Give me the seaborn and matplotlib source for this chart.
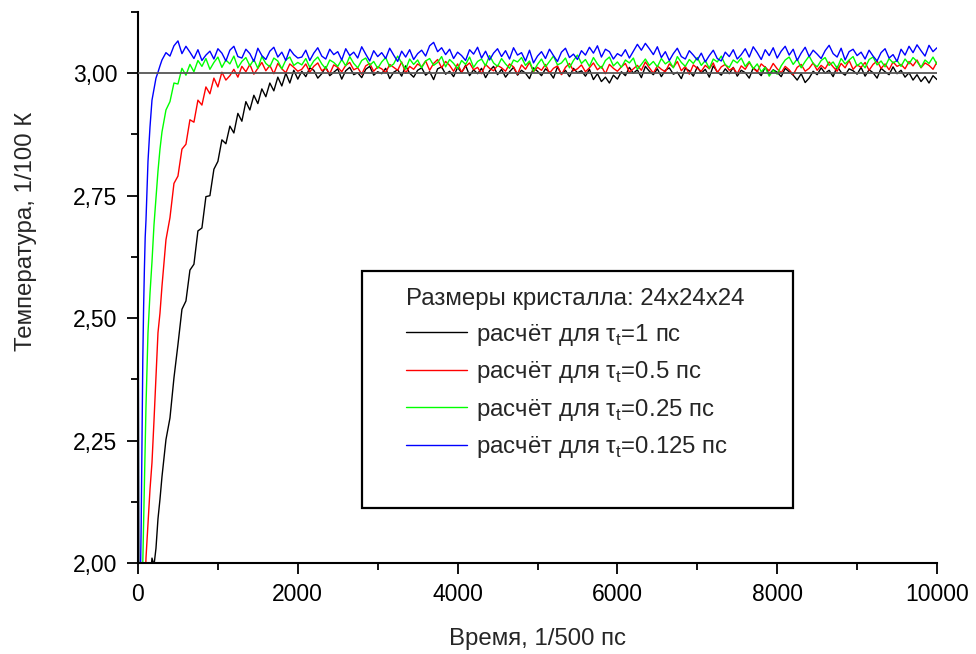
import numpy as np
import pandas as pd
import matplotlib
matplotlib.use("Agg")
import matplotlib.pyplot as plt
from matplotlib.lines import Line2D
from matplotlib.patches import Rectangle
from matplotlib.ticker import MultipleLocator, FuncFormatter
import seaborn as sns

# ---------------- data (temperature in 1/100 K, x1000) ----------------
time_steps = np.concatenate([np.arange(0, 100, 10), np.arange(100, 300, 25), np.arange(300, 10001, 50)])

tau1_early = [2950, 1450, 1500, 1560, 1610, 1660, 1700, 1740, 1770, 1800,
              1830, 1880, 1960, 2010, 1995, 2030, 2090, 2130]
tau1_mid = [2176, 2252, 2296, 2378, 2446, 2518, 2535, 2598, 2610, 2678,
            2684, 2748, 2750, 2804, 2820, 2864, 2856, 2892, 2878, 2918,
            2902, 2942, 2925, 2955, 2938, 2968, 2952, 2980, 2964, 2992,
            2974, 3000, 2980, 3006, 2988]
tau1_late = [3004, 2993, 3011, 3006, 2990, 2999, 3013, 2995, 3002, 3009,
             2988, 3005, 3012, 2997, 3001, 2991, 3008, 3014, 2996, 3003,
             2999, 3010, 2989, 3002, 3007, 2994, 3015, 3000, 2992, 3006,
             3011, 2996, 3003, 2987, 3009, 3013, 2998, 3004, 2993, 3012,
             3001, 3016, 2995, 3007, 2999, 3010, 2991, 3005, 3014, 2997,
             3008, 2992, 3003, 3012, 2996, 3006, 3000, 2989, 3011, 3004,
             2995, 3009, 3002, 2990, 3013, 2998, 3006, 2993, 3010, 3001,
             3005, 2994, 3008, 2987, 2999, 2983, 2992, 2980, 2996, 2988,
             3003, 2995, 3012, 3000, 3007, 2991, 3014, 3004, 2997, 3009,
             2993, 3006, 3011, 2998, 3002, 2989, 3010, 3005, 2994, 3013,
             3000, 3008, 2992, 3015, 3003, 2996, 3009, 2999, 3012, 2994,
             3006, 3001, 2990, 3011, 3004, 2995, 3013, 2998, 3007, 3002,
             2993, 3010, 3003, 2996, 2986, 2999, 2981, 2990, 3004, 2997,
             3011, 3000, 3006, 2993, 3014, 3002, 2996, 3009, 3005, 2998,
             3012, 2994, 3007, 3001, 2990, 3010, 3003, 2997, 3013, 2999,
             3006, 2992, 3001, 2986, 2997, 2983, 2993, 2980, 2995, 2987]

tau05_early = [2950, 1500, 1580, 1650, 1710, 1770, 1820, 1870, 1920, 1965,
               2010, 2080, 2150, 2205, 2290, 2380, 2470, 2510]
tau05_mid = [2565, 2660, 2705, 2775, 2790, 2845, 2855, 2905, 2900, 2945,
             2935, 2972, 2958, 2990, 2972, 3002, 2986, 2995, 3008, 2992,
             3014, 3003, 3018, 2998, 3010, 3022, 3005, 3016, 2999, 3020,
             3009, 3001, 3019, 3012, 3004]
tau05_late = [3008, 3019, 3002, 3014, 3021, 3005, 3010, 2999, 3017, 3012,
              3003, 3016, 3022, 3007, 3011, 2998, 3015, 3020, 3004, 3013,
              3009, 3001, 3018, 3012, 3006, 3023, 3000, 3014, 3008, 3019,
              3013, 3025, 3006, 3020, 3028, 3011, 3024, 3016, 3004, 3019,
              3002, 3014, 3021, 3007, 3012, 2999, 3018, 3010, 3005, 3016,
              3011, 3004, 3019, 3013, 2998, 3017, 3008, 3022, 3003, 3012,
              3006, 3018, 3000, 3010, 3015, 2997, 3012, 3020, 3005, 3009,
              3017, 3003, 3011, 3021, 3007, 3014, 2999, 3018, 3010, 3004,
              3013, 3020, 3002, 3009, 3016, 3006, 3023, 3011, 3000, 3015,
              3008, 3003, 3019, 3012, 3024, 3005, 3014, 2998, 3017, 3010,
              3004, 3016, 3009, 3021, 3001, 3013, 3018, 3006, 3011, 2999,
              3015, 3008, 3022, 3010, 3003, 3019, 3012, 3005, 3020, 3009,
              3001, 3014, 3007, 2997, 3012, 3018, 3004, 3010, 3021, 3006,
              3016, 3009, 3023, 3013, 3004, 3020, 3011, 3026, 3008, 3017,
              3012, 3022, 3006, 3018, 3025, 3010, 3019, 3007, 3023, 3014,
              3018, 3009, 3024, 3015, 3027, 3011, 3021, 3016, 3008, 3023]

tau025_early = [2940, 1600, 1700, 1790, 1870, 1940, 2000, 2080, 2170, 2245,
                2320, 2470, 2550, 2615, 2690, 2745, 2800, 2845]
tau025_mid = [2880, 2925, 2942, 2980, 2978, 3010, 2996, 3018, 3003, 3026,
              3014, 3030, 3008, 3022, 3033, 3012, 3027, 3019, 3035, 3011,
              3024, 3032, 3015, 3028, 3010, 3034, 3020, 3013, 3031, 3025,
              3009, 3027, 3033, 3016, 3022]
tau025_late = [3017, 3030, 3012, 3025, 3033, 3019, 3009, 3027, 3022, 3014,
               3028, 3015, 3034, 3020, 3011, 3026, 3031, 3016, 3024, 3010,
               3023, 3032, 3013, 3019, 3035, 3021, 3008, 3029, 3018, 3027,
               3011, 3025, 3030, 3016, 3022, 3034, 3013, 3028, 3020, 3009,
               3026, 3018, 3033, 3012, 3024, 3029, 3015, 3036, 3021, 3014,
               3030, 3019, 3010, 3027, 3023, 3032, 3016, 3025, 3004, 3018,
               3029, 3013, 3024, 3035, 3017, 3021, 3031, 3011, 3026, 3037,
               3020, 3028, 3014, 3032, 3019, 3010, 3026, 3033, 3015, 3023,
               3012, 3027, 3021, 3031, 3008, 3018, 3029, 3016, 3024, 3013,
               3030, 3019, 3025, 3011, 3034, 3022, 3014, 3028, 3020, 3032,
               3016, 3026, 3010, 3029, 3023, 3035, 3017, 3012, 3027, 3021,
               3031, 3014, 3024, 3009, 3019, 3003, 3012, 2994, 3006, 2998,
               3015, 3027, 3033, 3018, 3029, 3011, 3024, 3035, 3020, 3013,
               3026, 3032, 3016, 3023, 3010, 3030, 3019, 3027, 3034, 3015,
               3022, 3011, 3028, 3033, 3017, 3025, 3013, 3030, 3021, 3026,
               3014, 3029, 3019, 3032, 3024, 3012, 3027, 3020, 3033, 3018]

tau0125_early = [3000, 1700, 1850, 1960, 2080, 2250, 2415, 2520, 2600, 2665,
                 2700, 2820, 2890, 2945, 2968, 2990, 3002, 3015]
tau0125_mid = [3027, 3042, 3035, 3056, 3066, 3040, 3055, 3043, 3030, 3048,
               3026, 3037, 3045, 3029, 3050, 3041, 3025, 3047, 3055, 3034,
               3031, 3049, 3040, 3024, 3051, 3036, 3028, 3045, 3053, 3033,
               3043, 3026, 3049, 3038, 3031]
tau0125_late = [3033, 3047, 3026, 3041, 3052, 3035, 3029, 3049, 3038, 3044,
                3027, 3050, 3036, 3043, 3031, 3054, 3039, 3025, 3046, 3034,
                3042, 3030, 3051, 3037, 3024, 3045, 3033, 3048, 3028, 3040,
                3047, 3035, 3056, 3063, 3044, 3052, 3038, 3049, 3030, 3043,
                3036, 3026, 3048, 3039, 3053, 3031, 3045, 3027, 3041, 3050,
                3034, 3046, 3029, 3052, 3037, 3042, 3025, 3047, 3021, 3035,
                3044, 3030, 3049, 3036, 3024, 3043, 3051, 3032, 3039, 3028,
                3046, 3037, 3053, 3041, 3056, 3033, 3049, 3044, 3029, 3040,
                3035, 3048, 3031, 3045, 3059, 3047, 3061, 3050, 3038, 3054,
                3032, 3044, 3026, 3040, 3051, 3034, 3029, 3046, 3037, 3027,
                3041, 3023, 3036, 3047, 3030, 3025, 3043, 3034, 3048, 3029,
                3038, 3050, 3033, 3054, 3042, 3028, 3048, 3036, 3052, 3031,
                3045, 3055, 3037, 3049, 3026, 3041, 3053, 3034, 3047, 3039,
                3030, 3046, 3057, 3040, 3033, 3051, 3027, 3044, 3049, 3036,
                3043, 3029, 3047, 3035, 3025, 3042, 3050, 3031, 3038, 3024,
                3049, 3037, 3055, 3042, 3058, 3046, 3035, 3057, 3044, 3052]

series_labels = ["расчёт для τ$_\\mathregular{t}$=1 пс",
                 "расчёт для τ$_\\mathregular{t}$=0.5 пс",
                 "расчёт для τ$_\\mathregular{t}$=0.25 пс",
                 "расчёт для τ$_\\mathregular{t}$=0.125 пс"]
series_values = [tau1_early + tau1_mid + tau1_late,
                 tau05_early + tau05_mid + tau05_late,
                 tau025_early + tau025_mid + tau025_late,
                 tau0125_early + tau0125_mid + tau0125_late]
series_colors = ["#000000", "#ff0000", "#00ff00", "#0000ff"]
legend_title = "Размеры кристалла: 24x24x24"
reference_level = 3.00
x_label = "Время, 1/500 пс"
y_label = "Температура, 1/100 К"

frames = []
for lab, vals in zip(series_labels, series_values):
    frames.append(pd.DataFrame({"t": time_steps, "T": np.array(vals) / 1000.0, "series": lab}))
df = pd.concat(frames, ignore_index=True)

# ---------------- plot ----------------
sns.set_style("ticks")
plt.rcParams["font.family"] = ["Liberation Sans", "DejaVu Sans"]
plt.rcParams["mathtext.fontset"] = "custom"
plt.rcParams["mathtext.rm"] = "Liberation Sans"

fig = plt.figure(figsize=(9.76, 6.54), dpi=100)
ax = fig.add_axes([138 / 976, 1 - 563 / 654, (937 - 138) / 976, (563 - 12) / 654])

sns.lineplot(data=df, x="t", y="T", hue="series", palette=series_colors,
             hue_order=series_labels, estimator=None, sort=False,
             linewidth=1.0, legend=False, ax=ax, zorder=2)
ax.axhline(reference_level, color="#555555", linewidth=1.3, zorder=3)

ax.set_xlim(0, 10000)
ax.set_ylim(2.0, 3.125)
ax.xaxis.set_major_locator(MultipleLocator(2000))
ax.xaxis.set_minor_locator(MultipleLocator(1000))
ax.yaxis.set_major_locator(MultipleLocator(0.25))
ax.yaxis.set_minor_locator(MultipleLocator(0.125))
ax.yaxis.set_major_formatter(FuncFormatter(lambda v, p: f"{v:.2f}".replace(".", ",")))
ax.xaxis.set_major_formatter(FuncFormatter(lambda v, p: f"{int(round(v))}"))

for s in ["top", "right"]:
    ax.spines[s].set_visible(False)
for s in ["left", "bottom"]:
    ax.spines[s].set_linewidth(1.5)
    ax.spines[s].set_color("black")
ax.tick_params(which="major", direction="out", length=8, width=1.3, labelsize=16.5,
               colors="black")
ax.tick_params(axis="y", which="major", pad=7)
ax.tick_params(axis="x", which="major", pad=6.5)
ax.tick_params(which="minor", direction="out", length=5, width=1.3, colors="black")

ax.set_xlabel(x_label, fontsize=17.3, labelpad=15.5)
ax.set_ylabel(y_label, fontsize=17.3)
ax.yaxis.set_label_coords(-0.126, (563 - 231) / 551)

# legend
handles = [Line2D([], [], color=c, linewidth=1.0) for c in series_colors]
leg = ax.legend(handles, series_labels, title=legend_title, loc="upper left",
                bbox_to_anchor=(0.336, 0.499), frameon=False, fontsize=17.3,
                title_fontsize=17.3, alignment="left", handlelength=2.52,
                handletextpad=0.37, labelspacing=0.48, borderpad=0, borderaxespad=0)
ax.add_patch(Rectangle((0.280, 0.0998), 0.540, 0.430, transform=ax.transAxes,
                       fill=True, facecolor="white", edgecolor="black",
                       linewidth=1.6, zorder=4))
leg.set_zorder(5)

fig.savefig("out.png", dpi=100)
